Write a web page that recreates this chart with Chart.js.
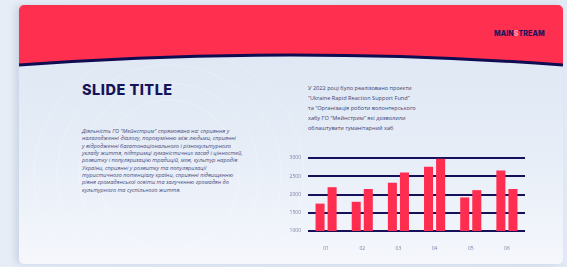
<!DOCTYPE html>
<html>
<head>
<meta charset="utf-8">
<script src="https://cdn.jsdelivr.net/npm/chart.js@4/dist/chart.umd.min.js"></script>
<style>
  html, body { margin: 0; padding: 0; }
  body {
    width: 567px; height: 267px; overflow: hidden; position: relative;
    background: linear-gradient(90deg, #e6edf7 0%, #e2e9f4 100%);
    font-family: 'Open Sans', 'Noto Sans', sans-serif;
  }
  .card {
    position: absolute; left: 19px; top: 5px; width: 544px; height: 259px;
    border-radius: 5px; overflow: hidden;
    background: linear-gradient(180deg, #dbe5f2 0%, #e6edf7 55%, #f5f7fc 100%);
    box-shadow: -4px 0 6px rgba(90, 110, 150, 0.18);
  }
  .card svg { position: absolute; left: 0; top: 0; }
  .logo {
    position: absolute; left: 475px; top: 24px;
    font: 800 7px 'Inter', sans-serif; color: #17145a; letter-spacing: 0.1px;
  }
  .logo span { color: #ff9aaa; }
  .title {
    position: absolute; left: 63px; top: 76px;
    font: 800 14.5px 'Inter', sans-serif; color: #16135a; letter-spacing: 0.5px;
  }
  .para {
    position: absolute; left: 63px; top: 123px; white-space: pre;
    font: italic 5.6px/7.35px 'Open Sans', sans-serif; color: #4a4c7c;
  }
  .note {
    position: absolute; left: 289px; top: 78px; white-space: pre;
    font: 5.6px/10px 'Open Sans', sans-serif; color: #3f4174;
  }
  #chart { position: absolute; left: 280px; top: 148px; }
</style>
</head>
<body>
<div class="card">
  <svg width="544" height="259" viewBox="0 0 544 259">
    <g fill="none" stroke="#ffffff" stroke-opacity="0.35" stroke-width="0.7">
      <ellipse cx="150" cy="170" rx="70" ry="75"/>
      <ellipse cx="150" cy="170" rx="90" ry="92"/>
      <ellipse cx="150" cy="170" rx="112" ry="110"/>
      <ellipse cx="150" cy="170" rx="135" ry="128"/>
    </g>
    <path d="M0 0 H544 V60 Q272 40 0 60 Z" fill="#ff2f50"/>
    <path d="M0 60 Q272 40 544 60" fill="none" stroke="#100c52" stroke-width="3"/>
  </svg>
  <div class="logo">MAIN<span>S</span>TREAM</div>
  <div class="title">SLIDE TITLE</div>
  <div class="para">Діяльність ГО "Мейнстрим" спрямована на: сприяння у
налагодженні діалогу, порозумінню між людьми, сприянні
у відродженні багатонаціонального і різнокультурного
укладу життя, підтримці гуманістичних засад і цінностей,
розвитку і популяризацію традицій, мов, культур народів
України, сприянні у розвитку та популяризації
туристичного потенціалу країни, сприянні підвищенню
рівня громадянської освіти та залученню громадян до
культурного та суспільного життя.</div>
  <div class="note">У 2022 році було реалізовано проєкти
“Ukraine Rapid Reaction Support Fund”
та “Організація роботи волонтерського
хабу ГО “Мейнстрим” які дозволили
облаштувати гуманітарний хаб</div>
</div>
<canvas id="chart" width="250" height="112"></canvas>
<script>
const categories = ['01', '02', '03', '04', '05', '06'];
const seriesA = [1750, 1800, 2320, 2760, 1920, 2660];
const seriesB = [2200, 2150, 2600, 2980, 2120, 2150];
const yTicks = [1000, 1500, 2000, 2500, 3000];

const BAR = '#ff2e50';
const NAVY = '#14115a';
const TICK = { color: '#7a7ea6', font: { family: "'Open Sans', sans-serif", size: 5 } };

new Chart(document.getElementById('chart'), {
  type: 'bar',
  data: {
    labels: categories,
    datasets: [
      { data: seriesA, backgroundColor: BAR, borderWidth: 0 },
      { data: seriesB, backgroundColor: BAR, borderWidth: 0 }
    ]
  },
  options: {
    responsive: false,
    animation: false,
    devicePixelRatio: 1,
    categoryPercentage: 0.667,
    barPercentage: 0.75,
    layout: { padding: { top: 5, right: 5, bottom: 0, left: 0 } },
    plugins: { legend: { display: false }, tooltip: { enabled: false } },
    scales: {
      x: {
        grid: { display: false },
        border: { display: false },
        ticks: { ...TICK, padding: 7, maxRotation: 0 },
        afterFit: (s) => { s.height = 29; }
      },
      y: {
        min: yTicks[0],
        max: yTicks[yTicks.length - 1],
        afterBuildTicks: (s) => { s.ticks = yTicks.map(v => ({ value: v })); },
        grid: { color: NAVY, lineWidth: 2, drawTicks: false },
        border: { display: false },
        ticks: { ...TICK, padding: 7, callback: (v) => String(v) },
        afterFit: (s) => { s.width = 28; }
      }
    }
  }
});
</script>
</body>
</html>
